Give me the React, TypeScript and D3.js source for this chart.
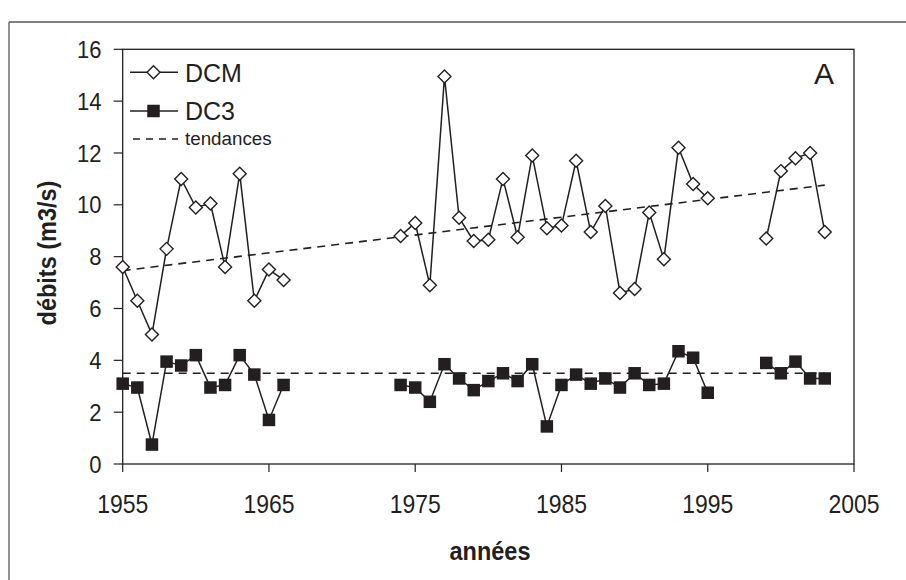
import React from "react";
import * as d3 from "d3";

const years: number[] = d3.range(1955, 2004);
const N = null;
const dcm: (number | null)[] = [
  7.6, 6.3, 5.0, 8.3, 11.0, 9.9, 10.05, 7.6, 11.2, 6.3, 7.5, 7.1,
  N, N, N, N, N, N, N,
  8.8, 9.3, 6.9, 14.95, 9.5, 8.6, 8.65, 11.0, 8.75, 11.9, 9.1, 9.2, 11.7, 8.95, 9.95,
  6.6, 6.75, 9.7, 7.9, 12.2, 10.8, 10.25,
  N, N, N,
  8.7, 11.3, 11.8, 12.0, 8.95,
];
const dc3: (number | null)[] = [
  3.1, 2.95, 0.75, 3.95, 3.8, 4.2, 2.95, 3.05, 4.2, 3.45, 1.7, 3.05,
  N, N, N, N, N, N, N,
  3.05, 2.95, 2.4, 3.85, 3.3, 2.85, 3.2, 3.5, 3.2, 3.85, 1.45, 3.05, 3.45, 3.1, 3.3,
  2.95, 3.5, 3.05, 3.1, 4.35, 4.1, 2.75,
  N, N, N,
  3.9, 3.5, 3.95, 3.3, 3.3,
];
const trendYears: number[] = [1955, 2003];
const trendDCM: number[] = [7.46, 10.76];
const trendDC3: number[] = [3.5, 3.5];
const xTicks: number[] = [1955, 1965, 1975, 1985, 1995, 2005];
const yTicks: number[] = [0, 2, 4, 6, 8, 10, 12, 14, 16];

const W = 906;
const H = 580;
const L = 122.7, R = 854, T = 49.3, B = 464;
const INK = "#231f20";
const FONT = "Liberation Sans, Arial, sans-serif";

export default function App() {
  const x = d3.scaleLinear().domain([1955, 2005]).range([L, R]);
  const y = d3.scaleLinear().domain([0, 16]).range([B, T]);
  type P = { yr: number; v: number | null };
  const dcmPts: P[] = years.map((yr, i) => ({ yr, v: dcm[i] }));
  const dc3Pts: P[] = years.map((yr, i) => ({ yr, v: dc3[i] }));
  const line = d3
    .line<P>()
    .defined((d) => d.v != null)
    .x((d) => x(d.yr))
    .y((d) => y(d.v as number));
  const tline = d3
    .line<number>()
    .x((_, i) => x(trendYears[i]))
    .y((d) => y(d));
  const dr = 6.5;
  const diamond = (cx: number, cy: number) =>
    `M${cx},${cy - dr}L${cx + dr},${cy}L${cx},${cy + dr}L${cx - dr},${cy}Z`;
  const sq = 12.5;

  return (
    <svg
      width={W}
      height={H}
      style={{ position: "absolute", left: 0, top: 0, background: "#fff" }}
      fontFamily={FONT}
    >
      <rect x={0} y={0} width={W} height={H} fill="#fff" />
      {/* outer frame */}
      <line x1={9} y1={22} x2={W} y2={22} stroke="#555" strokeWidth={1.3} />
      <line x1={9} y1={22} x2={9} y2={H} stroke="#555" strokeWidth={1.3} />

      {/* plot box */}
      <rect x={L} y={T} width={R - L} height={B - T} fill="none" stroke={INK} strokeWidth={1.3} />

      {/* y ticks */}
      {yTicks.map((t) => (
        <g key={"y" + t}>
          <line x1={L - 9} x2={L} y1={y(t)} y2={y(t)} stroke={INK} strokeWidth={1.2} />
          <text
            transform={`translate(101.5,${y(t)}) scale(1,1.08)`}
            dy="0.36em"
            textAnchor="end"
            fontSize={22}
            fill={INK}
          >
            {t}
          </text>
        </g>
      ))}
      {/* x ticks */}
      {xTicks.map((t) => (
        <g key={"x" + t}>
          <line x1={x(t)} x2={x(t)} y1={B} y2={B + 8} stroke={INK} strokeWidth={1.2} />
          <text
            transform={`translate(${x(t)},513) scale(1,1.1)`}
            textAnchor="middle"
            fontSize={23}
            fill={INK}
          >
            {t}
          </text>
        </g>
      ))}

      {/* axis titles */}
      <text
        transform="translate(490,560) scale(1,1.08)"
        textAnchor="middle"
        fontSize={23.5}
        fontWeight="bold"
        fill={INK}
      >
        années
      </text>
      <text
        transform={`translate(56,253) rotate(-90) scale(1,1.08)`}
        textAnchor="middle"
        fontSize={23.5}
        fontWeight="bold"
        fill={INK}
      >
        débits (m3/s)
      </text>

      {/* trends */}
      <path d={tline(trendDCM) || ""} fill="none" stroke={INK} strokeWidth={1.6} strokeDasharray="8,6" />
      <path d={tline(trendDC3) || ""} fill="none" stroke={INK} strokeWidth={1.6} strokeDasharray="8,6" />

      {/* DCM series */}
      <path d={line(dcmPts) || ""} fill="none" stroke={INK} strokeWidth={1.5} />
      {dcmPts
        .filter((d) => d.v != null)
        .map((d) => (
          <path
            key={"m" + d.yr}
            d={diamond(x(d.yr), y(d.v as number))}
            fill="#fff"
            stroke={INK}
            strokeWidth={1.4}
          />
        ))}

      {/* DC3 series */}
      <path d={line(dc3Pts) || ""} fill="none" stroke={INK} strokeWidth={1.5} />
      {dc3Pts
        .filter((d) => d.v != null)
        .map((d) => (
          <rect
            key={"s" + d.yr}
            x={x(d.yr) - sq / 2}
            y={y(d.v as number) - sq / 2}
            width={sq}
            height={sq}
            fill={INK}
          />
        ))}

      {/* legend */}
      <line x1={130} x2={178} y1={72.3} y2={72.3} stroke={INK} strokeWidth={1.5} />
      <path d={diamond(153.5, 72.3)} fill="#fff" stroke={INK} strokeWidth={1.4} />
      <text x={185} y={81.7} fontSize={25} fill={INK}>
        DCM
      </text>
      <line x1={130} x2={178} y1={111} y2={111} stroke={INK} strokeWidth={1.5} />
      <rect x={153.5 - sq / 2} y={111 - sq / 2} width={sq} height={sq} fill={INK} />
      <text x={185} y={120.3} fontSize={25} fill={INK}>
        DC3
      </text>
      <line x1={133} x2={178} y1={139} y2={139} stroke={INK} strokeWidth={1.6} strokeDasharray="7,6" />
      <text x={185} y={144.5} fontSize={18.8} fill={INK}>
        tendances
      </text>

      {/* panel letter */}
      <text x={824} y={84} textAnchor="middle" fontSize={30} fill={INK}>
        A
      </text>
    </svg>
  );
}
